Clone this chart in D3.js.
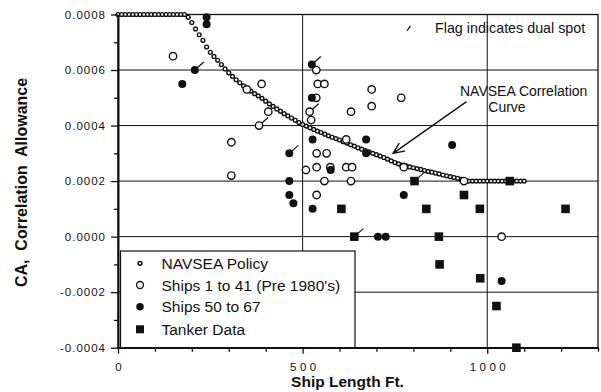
<!DOCTYPE html>
<html>
<head>
<meta charset="utf-8">
<script src="https://cdn.jsdelivr.net/npm/d3@7"></script>
<style>
  body { margin: 0; background: #fff; }
  svg { display: block; font-family: "Liberation Sans", Arial, Helvetica, sans-serif; }
</style>
</head>
<body>
<svg id="chart" width="601" height="392"></svg>
<script>
// NAVSEA correlation allowance policy, sampled every 10 ft of ship length
const policyLength = [
  0,10,20,30,40,50,60,70,80,90,100,110,120,130,140,150,160,170,180,190,
  200,210,220,230,240,250,260,270,280,290,300,310,320,330,340,350,360,370,380,390,
  400,410,420,430,440,450,460,470,480,490,500,510,520,530,540,550,560,570,580,590,
  600,610,620,630,640,650,660,670,680,690,700,710,720,730,740,750,760,770,780,790,
  800,810,820,830,840,850,860,870,880,890,900,910,920,930,940,950,960,970,980,990,
  1000,1010,1020,1030,1040,1050,1060,1070,1080,1090,1100
];
const policyCA = [
  0.0008,0.0008,0.0008,0.0008,0.0008,0.0008,0.0008,0.0008,0.0008,0.0008,
  0.0008,0.0008,0.0008,0.0008,0.0008,0.0008,0.0008,0.0008,0.0008,0.000790,
  0.000771,0.000748,0.000727,0.000707,0.000683,0.000664,0.000649,0.000635,0.000620,0.000604,
  0.000590,0.000577,0.000565,0.000554,0.000543,0.000532,0.000524,0.000515,0.000507,0.000498,
  0.000488,0.000478,0.000469,0.000460,0.000452,0.000443,0.000435,0.000427,0.000419,0.000411,
  0.000404,0.000398,0.000392,0.000386,0.000380,0.000375,0.000369,0.000363,0.000358,0.000353,
  0.000348,0.000342,0.000337,0.000331,0.000326,0.000320,0.000315,0.000310,0.000305,0.000300,
  0.000295,0.000290,0.000285,0.000279,0.000273,0.000267,0.000262,0.000258,0.000255,0.000251,
  0.000248,0.000245,0.000242,0.000238,0.000235,0.000232,0.000229,0.000226,0.000222,0.000219,
  0.000216,0.000213,0.000210,0.000206,0.000203,0.000200,0.0002,0.0002,0.0002,0.0002,
  0.0002,0.0002,0.0002,0.0002,0.0002,0.0002,0.0002,0.0002,0.0002,0.0002,0.0002
];

// [ship length ft, CA, dual spot (1 = flagged)]
const shipsPre1980 = [
  [149,0.00065,0],[349,0.00053,0],[389,0.00055,0],[407,0.00045,0],[382,0.0004,1],
  [307,0.00034,0],[307,0.00022,0],[537,0.0006,0],[541,0.00055,0],[559,0.00055,0],
  [537,0.0005,0],[519,0.00045,1],[523,0.00042,0],[618,0.00035,0],[687,0.00053,0],
  [767,0.0005,0],[687,0.00047,0],[631,0.00045,0],[538,0.0003,0],[565,0.0003,0],
  [509,0.00024,0],[538,0.00025,0],[575,0.00025,0],[618,0.00025,0],[634,0.00025,0],
  [774,0.00025,0],[559,0.0002,0],[631,0.0002,0],[937,0.0002,0],[538,0.00015,0],
  [1039,0.0,0]
];
const ships50to67 = [
  [240,0.00079,0],[240,0.000765,0],[208,0.0006,1],[174,0.00055,0],[525,0.00062,1],
  [525,0.0005,0],[527,0.00035,0],[672,0.00035,0],[905,0.00033,0],[672,0.0003,0],
  [464,0.0003,1],[576,0.00024,0],[464,0.0002,0],[464,0.00015,0],[475,0.00012,0],
  [527,0.0001,0],[774,0.00015,0],[704,0.0,0],[725,0.0,0],[1039,-0.00016,0]
];
const tankerData = [
  [803,0.0002,1],[1061,0.0002,0],[937,0.00015,0],[605,0.0001,0],[835,0.0001,0],
  [980,0.0001,0],[1212,0.0001,0],[640,0.0,1],[869,0.0,0],[871,-0.0001,0],
  [981,-0.00015,0],[1025,-0.00025,0],[1079,-0.0004,0]
];

const xMajorTicks = [0, 500, 1000];
const xTickLabels = ["0", "500", "1000"];
const xMinorTicks = [100,200,300,400,600,700,800,900,1100,1200,1300];
const yMajorTicks = [0.0008, 0.0006, 0.0004, 0.0002, 0.0, -0.0002, -0.0004];
const yTickLabels = ["0.0008","0.0006","0.0004","0.0002","0.0000","-0.0002","-0.0004"];
const yMinorTicks = [0.0007, 0.0005, 0.0003, 0.0001, -0.0001, -0.0003];
const legendLabels = ["NAVSEA Policy", "Ships 1 to 41 (Pre 1980's)", "Ships 50 to 67", "Tanker Data"];

const ink = "#111";
const svg = d3.select("#chart");
const plotLeft = 118, plotRight = 598, plotTop = 14.5, plotBottom = 347.7;

const x = d3.scaleLinear().domain([0, 1300]).range([plotLeft, plotRight]);
const y = d3.scaleLinear().domain([-0.0004, 0.0008]).range([plotBottom, plotTop]);

// grid
const grid = svg.append("g").attr("stroke", ink).attr("stroke-width", 1);
grid.selectAll("line.h").data([0.0006, 0.0004, 0.0002, 0.0, -0.0002]).join("line")
  .attr("x1", plotLeft).attr("x2", plotRight)
  .attr("y1", d => y(d)).attr("y2", d => y(d));
grid.selectAll("line.v").data([500, 1000]).join("line")
  .attr("x1", d => x(d)).attr("x2", d => x(d))
  .attr("y1", plotTop).attr("y2", plotBottom);

// plot frame
svg.append("rect")
  .attr("x", plotLeft).attr("y", plotTop)
  .attr("width", plotRight - plotLeft).attr("height", plotBottom - plotTop)
  .attr("fill", "none").attr("stroke", ink).attr("stroke-width", 1.3);

// policy curve (beaded dots)
svg.append("g").selectAll("circle").data(policyLength).join("circle")
  .attr("cx", d => x(d)).attr("cy", (d, i) => y(policyCA[i]))
  .attr("r", 1.9).attr("fill", "#fff").attr("stroke", ink).attr("stroke-width", 1.4);

// dual-spot flags
function flags(data) {
  svg.append("g").selectAll("line").data(data.filter(d => d[2])).join("line")
    .attr("x1", d => x(d[0])).attr("y1", d => y(d[1]))
    .attr("x2", d => x(d[0]) + 9).attr("y2", d => y(d[1]) - 8)
    .attr("stroke", ink).attr("stroke-width", 1.2);
}
flags(shipsPre1980); flags(ships50to67); flags(tankerData);

// ships 1 to 41
svg.append("g").selectAll("circle").data(shipsPre1980).join("circle")
  .attr("cx", d => x(d[0])).attr("cy", d => y(d[1]))
  .attr("r", 3.7).attr("fill", "#fff").attr("stroke", ink).attr("stroke-width", 1.4);

// ships 50 to 67
svg.append("g").selectAll("circle").data(ships50to67).join("circle")
  .attr("cx", d => x(d[0])).attr("cy", d => y(d[1]))
  .attr("r", 4).attr("fill", ink);

// tankers
svg.append("g").selectAll("rect").data(tankerData).join("rect")
  .attr("x", d => x(d[0]) - 4.3).attr("y", d => y(d[1]) - 4.3)
  .attr("width", 8.6).attr("height", 8.6).attr("fill", ink);

// legend
const lg = svg.append("g");
lg.append("rect").attr("x", 120.5).attr("y", 251).attr("width", 234.5).attr("height", 96.7)
  .attr("fill", "#fff").attr("stroke", ink).attr("stroke-width", 1.2);
const rowY = [263.3, 285, 306.7, 329.3];
lg.append("circle").attr("cx", 140).attr("cy", rowY[0]).attr("r", 1.9)
  .attr("fill", "#fff").attr("stroke", ink).attr("stroke-width", 1.5);
lg.append("circle").attr("cx", 140).attr("cy", rowY[1]).attr("r", 3.5)
  .attr("fill", "#fff").attr("stroke", ink).attr("stroke-width", 1.3);
lg.append("circle").attr("cx", 140).attr("cy", rowY[2]).attr("r", 3.8).attr("fill", ink);
lg.append("rect").attr("x", 136).attr("y", rowY[3] - 4).attr("width", 8).attr("height", 8).attr("fill", ink);
lg.selectAll("text").data(legendLabels).join("text")
  .attr("x", 161.5).attr("y", (d, i) => rowY[i] + 5.6)
  .attr("font-size", 15.5).attr("fill", ink).text(d => d);

// axes
const yAxis = d3.axisLeft(y).tickValues(yMajorTicks)
  .tickFormat((d, i) => yTickLabels[i]).tickSize(7).tickSizeOuter(0).tickPadding(5);
const yMinor = d3.axisLeft(y).tickValues(yMinorTicks).tickFormat("").tickSize(4).tickSizeOuter(0);
const xAxis = d3.axisBottom(x).tickValues(xMajorTicks)
  .tickFormat((d, i) => xTickLabels[i]).tickSize(6).tickSizeOuter(0).tickPadding(9);
const xMinor = d3.axisBottom(x).tickValues(xMinorTicks).tickFormat("").tickSize(4).tickSizeOuter(0);

function styleAxis(g) {
  g.select(".domain").attr("stroke", ink).attr("stroke-width", 1.6);
  g.selectAll(".tick line").attr("stroke", ink).attr("stroke-width", 1.3);
  g.selectAll(".tick text").attr("fill", ink).attr("font-family", "'Liberation Sans', Arial, sans-serif");
}
svg.append("g").attr("transform", `translate(${plotLeft},0)`).call(yMinor).call(styleAxis);
const gy = svg.append("g").attr("transform", `translate(${plotLeft},0)`).call(yAxis).call(styleAxis);
gy.selectAll(".tick text").attr("font-size", 11.5).attr("letter-spacing", "1px");
svg.append("g").attr("transform", `translate(0,${plotBottom})`).call(xMinor).call(styleAxis);
const gx = svg.append("g").attr("transform", `translate(0,${plotBottom})`).call(xAxis).call(styleAxis);
gx.selectAll(".tick text").attr("font-size", 11.5).attr("letter-spacing", "3.5px").attr("dx", "1.75px");

// axis titles
svg.append("text").attr("x", 347.5).attr("y", 386.5).attr("text-anchor", "middle")
  .attr("font-size", 15.5).attr("font-weight", "bold").attr("fill", ink).text("Ship Length Ft.");
svg.append("text").attr("transform", "translate(27,182.5) rotate(-90)").attr("text-anchor", "middle")
  .attr("font-size", 16).attr("font-weight", "bold").attr("fill", ink)
  .style("white-space", "pre")
  .text("CA,  Correlation  Allowance");

// flag key
svg.append("line")
  .attr("x1", x(783)).attr("y1", y(0.000742)).attr("x2", x(792)).attr("y2", y(0.000759))
  .attr("stroke", ink).attr("stroke-width", 1.2);
svg.append("text").attr("x", 435).attr("y", 33.3).attr("font-size", 14.3).attr("fill", ink)
  .text("Flag indicates dual spot");

// curve annotation with arrow
svg.append("text").attr("x", 460).attr("y", 95.9).attr("font-size", 14).attr("fill", ink)
  .text("NAVSEA Correlation");
svg.append("text").attr("x", 488.3).attr("y", 111.7).attr("font-size", 14).attr("fill", ink)
  .text("Curve");
const tail = [x(944), y(0.000486)], tip = [x(745), y(0.0003)];
const ang = Math.atan2(tail[1] - tip[1], tail[0] - tip[0]);
const headLen = 12, spread = 0.42;
svg.append("path")
  .attr("d", `M${tail[0]},${tail[1]}L${tip[0]},${tip[1]}` +
    `M${tip[0] + headLen * Math.cos(ang - spread)},${tip[1] + headLen * Math.sin(ang - spread)}` +
    `L${tip[0]},${tip[1]}` +
    `L${tip[0] + headLen * Math.cos(ang + spread)},${tip[1] + headLen * Math.sin(ang + spread)}`)
  .attr("fill", "none").attr("stroke", ink).attr("stroke-width", 1.4);
</script>
</body>
</html>
